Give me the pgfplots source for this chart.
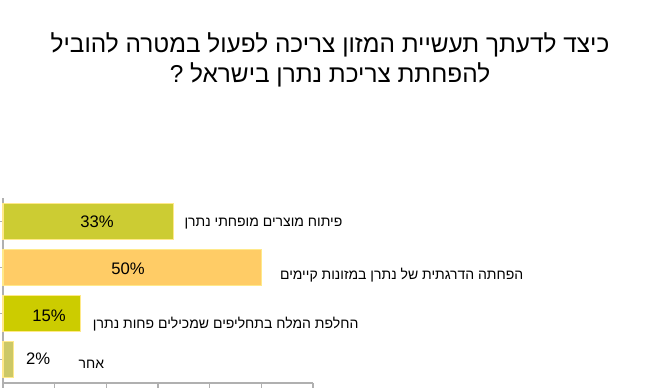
\documentclass[border=0pt]{standalone}
\usepackage{fontspec}
\setmainfont{Liberation Sans}
\newfontfamily\hebfont[Script=Hebrew]{Liberation Sans}
\TeXXeTstate=1
\usepackage{pgfplots}
\pgfplotsset{compat=1.18}
\definecolor{barA}{HTML}{CCCC33}
\definecolor{barB}{HTML}{FFCC66}
\definecolor{barC}{HTML}{CCCC00}
\definecolor{barD}{HTML}{CCC866}
\definecolor{edge}{HTML}{FFE98A}
\definecolor{axgray}{HTML}{B0B0B0}
\begin{document}
\begin{tikzpicture}
\clip (0,0) rectangle (489.75pt,293.25pt);
\path[use as bounding box] (0,0) rectangle (489.75pt,293.25pt);
\node[font=\hebfont\fontsize{18.3}{22}\selectfont] at (247.5pt,259.5pt) {\beginR כיצד לדעתך תעשיית המזון צריכה לפעול במטרה להוביל\endR};
\node[font=\hebfont\fontsize{18.3}{22}\selectfont] at (247.5pt,237pt) {\beginR להפחתת צריכת נתרן בישראל ?\endR};
\begin{axis}[
  at={(2.25pt,6pt)}, anchor=south west,
  scale only axis, width=232.5pt, height=138.75pt,
  xmin=0, xmax=60, ymin=-0.5, ymax=3.5,
  xtick={0,10,20,30,40,50,60}, xticklabels={},
  ytick={0,1,2,3}, yticklabels={},
  axis x line*=bottom, axis y line*=left,
  axis line style={draw=axgray, line width=0.8pt, -},
  x tick style={draw=axgray, line width=0.8pt},
  y tick style={draw=axgray, line width=0.8pt},
  xtick align=outside, ytick align=outside,
  major tick length=3.5pt,
  xbar, bar width=27pt, bar shift=0pt,
  clip=false,
]
\addplot[fill=barA, draw=edge, line width=0.8pt] coordinates {(33,3)};
\addplot[fill=barB, draw=edge, line width=0.8pt] coordinates {(50,2)};
\addplot[fill=barC, draw=edge, line width=0.8pt] coordinates {(15,1)};
\addplot[fill=barD, draw=edge, line width=0.8pt] coordinates {(2,0)};
\node[font=\fontsize{12.5}{14}\selectfont] at (axis cs:18.2,2.98) {33\%};
\node[font=\fontsize{12.5}{14}\selectfont] at (axis cs:24.2,1.96) {50\%};
\node[font=\fontsize{12.5}{14}\selectfont] at (axis cs:8.9,0.95) {15\%};
\node[font=\fontsize{12.5}{14}\selectfont] at (axis cs:6.8,0.02) {2\%};
\node[anchor=east, font=\hebfont\fontsize{10.5}{12}\selectfont] at (axis cs:66.6,2.94) {\beginR פיתוח מוצרים מופחתי נתרן\endR};
\node[anchor=east, font=\hebfont\fontsize{10.5}{12}\selectfont] at (axis cs:101.6,1.84) {\beginR הפחתה הדרגתית של נתרן במזונות קיימים\endR};
\node[anchor=east, font=\hebfont\fontsize{10.5}{12}\selectfont] at (axis cs:69.7,0.78) {\beginR החלפת המלח בתחליפים שמכילים פחות נתרן\endR};
\node[anchor=east, font=\hebfont\fontsize{10.5}{12}\selectfont] at (axis cs:20.5,-0.1) {\beginR אחר\endR};
\end{axis}
\end{tikzpicture}
\end{document}
